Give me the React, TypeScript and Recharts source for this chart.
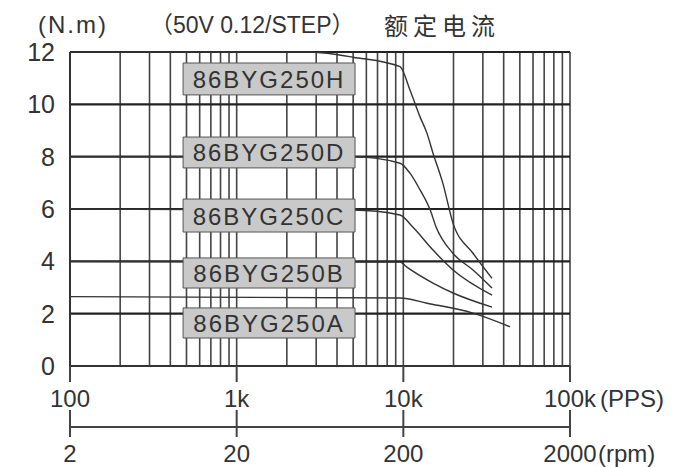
import {
  LineChart,
  Line,
  XAxis,
  YAxis,
  CartesianGrid,
  ReferenceArea,
} from 'recharts';

const FONT = '"Liberation Sans", Arial, "Noto Sans CJK SC", sans-serif';

// 频率刻度 (PPS)，网格竖线
const ppsTicks = [
  100, 200, 300, 400, 500, 600, 700, 800, 900,
  1000, 2000, 3000, 4000, 5000, 6000, 7000, 8000, 9000,
  10000, 20000, 30000, 40000, 50000, 60000, 70000, 80000, 90000,
  100000,
];
const ppsDecades = [100, 1000, 10000, 100000];
const ppsLabels = ['100', '1k', '10k', '100k'];
const rpmTicks = [2, 20, 200, 2000];
const torqueTicks = [0, 2, 4, 6, 8, 10, 12];

// 各型号矩频曲线
const hFreq = [100, 2500, 3480, 5000, 9550, 10960, 12580, 13870, 15070, 17270, 19880, 26180, 34060];
const hTorque = [12, 12, 11.95, 11.8, 11.44, 10.55, 9.53, 8.89, 8.13, 6.98, 5.45, 4.31, 3.35];
const dFreq = [100, 4990, 9550, 10960, 12600, 14500, 15700, 19880, 26180, 34060];
const dTorque = [8, 8, 7.75, 7.37, 6.73, 5.96, 5.32, 4.3, 3.67, 2.98];
const cFreq = [100, 4990, 9550, 11430, 15070, 19880, 34060];
const cTorque = [6, 5.96, 5.77, 5.3, 4.43, 3.67, 2.71];
const bFreq = [100, 9550, 10500, 15070, 19880, 34060];
const bTorque = [4, 3.97, 3.78, 3.17, 2.79, 2.25];
const aFreq = [100, 9550, 13870, 26180, 43650];
const aTorque = [2.65, 2.6, 2.4, 2.02, 1.5];

const models = ['86BYG250H', '86BYG250D', '86BYG250C', '86BYG250B', '86BYG250A'];
const boxTop = [11.58, 8.75, 6.38, 4.13, 2.22];
const boxBottom = [10.36, 7.57, 5.12, 2.98, 1.07];

const toPoints = (f: number[], t: number[]) => f.map((v, i) => ({ f: v, t: t[i] }));
const series = [
  toPoints(hFreq, hTorque),
  toPoints(dFreq, dTorque),
  toPoints(cFreq, cTorque),
  toPoints(bFreq, bTorque),
  toPoints(aFreq, aTorque),
];

const textStyle = { fontSize: 24, fill: '#333', fontFamily: FONT };

// PPS 刻度，同时画下方的 rpm 刻度
function PpsTick({ x, y, payload }: any) {
  const i = ppsDecades.indexOf(payload.value);
  if (i < 0) return <g />;
  const last = i === ppsDecades.length - 1;
  return (
    <g>
      <line x1={x} y1={y} x2={x} y2={y + 16} stroke="#444" strokeWidth={2} />
      <text x={x} y={y + 41} textAnchor="middle" {...textStyle}>
        {ppsLabels[i]}
      </text>
      {last && (
        <text x={x + 30} y={y + 41} textAnchor="start" {...textStyle}>
          (PPS)
        </text>
      )}
      <line x1={x} y1={y + 44} x2={x} y2={y + 71} stroke="#444" strokeWidth={2} />
      <text x={x} y={y + 96} textAnchor="middle" {...textStyle}>
        {rpmTicks[i]}
      </text>
      {last && (
        <text x={x + 28} y={y + 96} textAnchor="start" {...textStyle}>
          (rpm)
        </text>
      )}
    </g>
  );
}

function TorqueTick({ x, y, payload }: any) {
  return (
    <text x={x - 15} y={y + 9} textAnchor="end" fontSize={25} fill="#333" fontFamily={FONT}>
      {payload.value}
    </text>
  );
}

function BoxLabel({ viewBox, text }: any) {
  if (!viewBox) return null;
  return (
    <text
      x={viewBox.x + viewBox.width / 2}
      y={viewBox.y + viewBox.height / 2 + 9}
      textAnchor="middle"
      letterSpacing={2}
      {...textStyle}
    >
      {text}
    </text>
  );
}

export default function App() {
  return (
    <div style={{ position: 'absolute', left: 0, top: 0, width: 700, height: 467, background: '#fff' }}>
      <div
        style={{
          position: 'absolute',
          left: 38,
          top: 10,
          fontSize: 24,
          letterSpacing: 2,
          color: '#333',
          fontFamily: FONT,
          whiteSpace: 'nowrap',
          lineHeight: '30px',
        }}
      >
        (N.m)
      </div>
      <div
        style={{
          position: 'absolute',
          left: 150,
          top: 10,
          fontSize: 23,
          color: '#333',
          fontFamily: FONT,
          whiteSpace: 'nowrap',
          lineHeight: '30px',
        }}
      >
        （50V 0.12/STEP）
      </div>
      <div
        style={{
          position: 'absolute',
          left: 384,
          top: 10,
          fontSize: 24,
          letterSpacing: 5,
          color: '#333',
          fontFamily: '"Noto Sans CJK SC", sans-serif',
          whiteSpace: 'nowrap',
          lineHeight: '30px',
        }}
      >
        额定电流
      </div>
      <LineChart
        width={700}
        height={467}
        margin={{ top: 52, right: 130, bottom: 0, left: 20 }}
      >
        <CartesianGrid horizontal={false} stroke="#444" strokeWidth={1.6} />
        <CartesianGrid vertical={false} stroke="#222" strokeWidth={2.2} />
        <XAxis
          type="number"
          dataKey="f"
          scale="log"
          domain={[100, 100000]}
          ticks={ppsTicks}
          interval={0}
          allowDataOverflow
          height={61}
          tickSize={0}
          tickMargin={0}
          axisLine={{ stroke: '#333', strokeWidth: 2 }}
          tickLine={false}
          tick={<PpsTick />}
        />
        <XAxis
          xAxisId="rpm"
          type="number"
          scale="log"
          domain={[2, 2000]}
          height={40}
          axisLine={{ stroke: '#444', strokeWidth: 2 }}
          tickLine={false}
          tick={false}
        />
        <YAxis
          type="number"
          domain={[0, 12]}
          ticks={torqueTicks}
          interval={0}
          width={50}
          tickSize={0}
          tickMargin={0}
          axisLine={{ stroke: '#333', strokeWidth: 2 }}
          tickLine={false}
          tick={<TorqueTick />}
        />
        {series.map((d, i) => (
          <Line
            key={models[i]}
            data={d}
            dataKey="t"
            type="monotone"
            stroke="#333"
            strokeWidth={1.4}
            dot={false}
            isAnimationActive={false}
          />
        ))}
        {models.map((m, i) => (
          <ReferenceArea
            key={m}
            x1={477}
            x2={5130}
            y1={boxBottom[i]}
            y2={boxTop[i]}
            fill="#c9c9c9"
            fillOpacity={1}
            stroke="#555"
            strokeWidth={1}
            zIndex={1500}
            label={<BoxLabel text={m} />}
          />
        ))}
      </LineChart>
    </div>
  );
}
